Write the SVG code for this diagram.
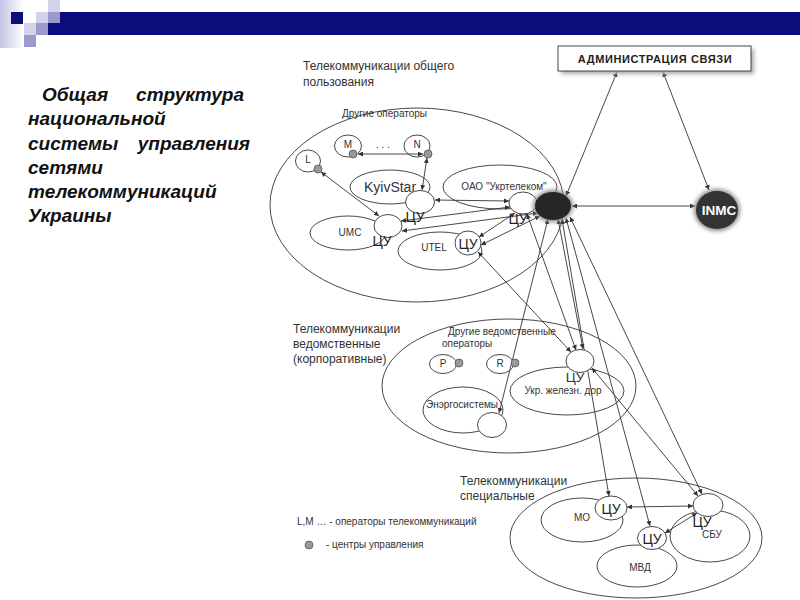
<svg xmlns="http://www.w3.org/2000/svg" width="800" height="600" viewBox="0 0 800 600">
<defs>
<linearGradient id="lg" x1="0" y1="0" x2="1" y2="0">
<stop offset="0" stop-color="#c4c4e4"/><stop offset="1" stop-color="#ffffff"/>
</linearGradient>
<filter id="glow" x="-50%" y="-50%" width="200%" height="200%">
<feGaussianBlur stdDeviation="2"/>
</filter>
<marker id="ar" viewBox="0 0 6 6" refX="6" refY="3" markerWidth="5" markerHeight="5" markerUnits="userSpaceOnUse" orient="auto-start-reverse">
<path d="M0,0 L6,3 L0,6 z" fill="#333"/>
</marker>
<style>
.t{font-family:"Liberation Sans",Arial,sans-serif;fill:#333}
.lb{font-size:12px}
.sm{font-size:10px}
.cu{font-size:14px;fill:#222}
.el{fill:none;stroke:#333;stroke-width:0.9}
.nd{fill:#fff;stroke:#333;stroke-width:0.9}
.dot{fill:#999;stroke:#555;stroke-width:0.8}
.cn line{stroke:#333;stroke-width:0.9;marker-start:url(#ar);marker-end:url(#ar)}
.title{font-family:"Liberation Sans",Arial,sans-serif;font-size:19px;font-weight:bold;font-style:italic;fill:#111}
</style>
</defs>
<rect width="800" height="600" fill="#fff"/>
<!-- header -->
<g id="header">
<rect x="0" y="0" width="24" height="48" fill="url(#lg)"/>
<rect x="48" y="12" width="752" height="23" fill="#0c0c7c"/>
<rect x="11" y="12" width="12" height="12" fill="#0c0c7c"/>
<rect x="36" y="12" width="12" height="11" fill="#d2d2ec"/>
<rect x="36" y="23" width="12" height="12" fill="#9a9acc"/>
<rect x="48" y="0" width="12" height="12" fill="#d2d2ec"/>
<rect x="48" y="12" width="12" height="11" fill="#9a9acc"/>
<rect x="24" y="23" width="12" height="12" fill="#d2d2ec"/>
<rect x="24" y="35" width="12" height="12" fill="#9a9acc"/>
</g>
<!-- title -->
<g id="title" class="title">
<text x="42" y="101">Общая</text>
<text x="244" y="101" text-anchor="end">структура</text>
<text x="28" y="125">национальной</text>
<text x="28" y="150">системы</text>
<text x="250" y="150" text-anchor="end">управления</text>
<text x="28" y="174">сетями</text>
<text x="28" y="198">телекоммуникаций</text>
<text x="28" y="222">Украины</text>
</g>
<!-- section labels -->
<g id="sec-public">
<ellipse class="el" cx="417" cy="205" rx="147" ry="97"/>
<text class="t lb" x="303" y="70">Телекоммуникации общего</text>
<text class="t lb" x="303" y="86">пользования</text>
<text class="t sm" x="342" y="117">Другие операторы</text>
</g>
<g id="sec-dept">
<ellipse class="el" cx="509" cy="386" rx="127" ry="67"/>
<text class="t lb" x="293" y="333">Телекоммуникации</text>
<text class="t lb" x="293" y="348">ведомственные</text>
<text class="t lb" x="293" y="363">(корпоративные)</text>
<text class="t sm" x="448" y="335">Другие ведомственные</text>
<text class="t sm" x="442" y="347">операторы</text>
</g>
<g id="sec-special">
<ellipse class="el" cx="636" cy="538" rx="126" ry="60"/>
<text class="t lb" x="460" y="485">Телекоммуникации</text>
<text class="t lb" x="460" y="500">специальные</text>
</g>
<!-- operator ellipses -->
<g id="kyivstar"><ellipse class="el" cx="390" cy="187" rx="40" ry="17"/><text class="t" x="390" y="192" font-size="14" text-anchor="middle">KyivStar</text></g>
<g id="umc"><ellipse class="el" cx="348" cy="233" rx="38" ry="17"/><text class="t sm" x="350" y="236" text-anchor="middle">UMC</text></g>
<g id="ukrtelecom"><ellipse class="el" cx="500" cy="187" rx="57" ry="22"/><text class="t sm" x="504" y="190" text-anchor="middle">ОАО "Укртелеком"</text></g>
<g id="utel"><ellipse class="el" cx="440" cy="251" rx="42" ry="19"/><text class="t sm" x="434" y="251" text-anchor="middle">UTEL</text></g>
<g id="energo"><ellipse class="el" cx="463" cy="410" rx="40" ry="23"/><text class="t sm" x="462" y="408" text-anchor="middle">Энэргосистемы</text></g>
<g id="rail"><ellipse class="el" cx="567" cy="391" rx="57" ry="24"/><text class="t sm" x="563" y="394" text-anchor="middle">Укр. железн. дор</text></g>
<g id="mo"><ellipse class="el" cx="582" cy="520" rx="41" ry="22"/><text class="t sm" x="582" y="521" text-anchor="middle">МО</text></g>
<g id="sbu"><ellipse class="el" cx="710" cy="536" rx="40" ry="26"/><text class="t sm" x="712" y="538" text-anchor="middle">СБУ</text></g>
<g id="mvd"><ellipse class="el" cx="637" cy="566" rx="40" ry="21"/><text class="t sm" x="640" y="571" text-anchor="middle">МВД</text></g>
<!-- small operators -->
<g id="op-m"><ellipse class="el" cx="348" cy="146" rx="13.5" ry="11"/><text class="t sm" x="348" y="148" text-anchor="middle">M</text></g>
<g id="op-dots"><text class="t sm" x="383" y="148" text-anchor="middle">. . .</text></g>
<g id="op-n"><ellipse class="el" cx="417" cy="146" rx="13" ry="11"/><text class="t sm" x="417" y="148" text-anchor="middle">N</text></g>
<g id="op-l"><ellipse class="el" cx="308" cy="161" rx="12.5" ry="11"/><text class="t sm" x="308" y="163" text-anchor="middle">L</text></g>
<g id="op-p"><ellipse class="el" cx="443" cy="364" rx="13.5" ry="9.5"/><text class="t sm" x="443" y="367" text-anchor="middle">P</text></g>
<g id="op-r"><ellipse class="el" cx="500" cy="364" rx="13.5" ry="9.5"/><text class="t sm" x="500" y="367" text-anchor="middle">R</text></g>
<!-- connectors -->
<g id="connectors" class="cn">
<line x1="566" y1="196" x2="617" y2="72"/>
<line x1="663" y1="72" x2="709" y2="190"/>
<line x1="572" y1="206" x2="695" y2="206"/>
<line x1="358" y1="154" x2="423" y2="154"/>
<line x1="427" y1="158" x2="422" y2="190"/>
<line x1="321" y1="172" x2="379" y2="216"/>
<line x1="435" y1="200" x2="509" y2="201"/>
<line x1="401" y1="221" x2="510" y2="207"/>
<line x1="402" y1="231" x2="538" y2="213"/>
<line x1="479" y1="237" x2="515" y2="213"/>
<line x1="481" y1="245" x2="540" y2="216"/>
<line x1="478" y1="252" x2="571" y2="352"/>
<line x1="527" y1="214" x2="576" y2="350"/>
<line x1="558" y1="219" x2="583" y2="349"/>
<line x1="548" y1="219" x2="499" y2="413"/>
<line x1="562" y1="219" x2="609" y2="496"/>
<line x1="566" y1="218" x2="650" y2="526"/>
<line x1="570" y1="217" x2="702" y2="494"/>
<line x1="592" y1="368" x2="698" y2="496"/>
<line x1="627" y1="507" x2="693" y2="506"/>
<line x1="697" y1="513" x2="665" y2="533"/>
</g>
<!-- control centers -->
<g id="dot-m"><circle class="dot" cx="353" cy="154" r="4"/></g>
<g id="dot-n"><circle class="dot" cx="428" cy="154" r="4"/></g>
<g id="dot-l"><circle class="dot" cx="318" cy="169" r="4"/></g>
<g id="dot-p"><circle class="dot" cx="459" cy="363" r="4"/></g>
<g id="dot-r"><circle class="dot" cx="515" cy="363" r="4"/></g>
<g id="cu-kyivstar"><ellipse class="nd" cx="420" cy="202" rx="14.5" ry="11.5"/><text class="t cu" x="415" y="222" text-anchor="middle">ЦУ</text></g>
<g id="cu-umc"><ellipse class="nd" cx="388" cy="226" rx="14" ry="11.5"/><text class="t cu" x="382" y="246" text-anchor="middle">ЦУ</text></g>
<g id="cu-ukrtelecom"><ellipse class="nd" cx="523" cy="203" rx="14" ry="11"/><text class="t cu" x="518" y="224" text-anchor="middle">ЦУ</text></g>
<g id="cu-utel"><ellipse class="nd" cx="468" cy="243" rx="13" ry="12"/><text class="t cu" x="468" y="249" text-anchor="middle">ЦУ</text></g>
<g id="cu-energo"><ellipse class="nd" cx="492" cy="425" rx="14.5" ry="12.5"/></g>
<g id="cu-rail"><ellipse class="nd" cx="580" cy="361" rx="14" ry="11.5"/><text class="t" x="575" y="382" font-size="13.5" fill="#222" text-anchor="middle">ЦУ</text></g>
<g id="cu-mo"><ellipse class="nd" cx="611" cy="508" rx="16" ry="12"/><text class="t cu" x="611" y="514" text-anchor="middle">ЦУ</text></g>
<g id="cu-sbu"><ellipse class="nd" cx="708" cy="505" rx="15" ry="11.5"/><text class="t cu" x="702" y="527" text-anchor="middle">ЦУ</text></g>
<g id="cu-mvd"><ellipse class="nd" cx="652" cy="538" rx="14.5" ry="11.5"/><text class="t cu" x="652" y="544" text-anchor="middle">ЦУ</text></g>
<!-- main nodes -->
<g id="national-center">
<ellipse cx="553" cy="206" rx="20" ry="16" fill="#888" filter="url(#glow)"/>
<ellipse cx="553" cy="206" rx="18" ry="14" fill="#262626"/>
</g>
<g id="inmc">
<ellipse cx="717" cy="210" rx="23" ry="21" fill="#888" filter="url(#glow)"/>
<ellipse cx="717" cy="210" rx="21" ry="19" fill="#333"/>
<text x="719" y="215" font-family="'Liberation Sans',Arial,sans-serif" font-size="13.5" font-weight="bold" fill="#fff" text-anchor="middle">INMC</text>
</g>
<g id="admin">
<rect x="561" y="49" width="193" height="25" fill="#aaa" filter="url(#glow)"/>
<rect x="558" y="46" width="193" height="25" fill="#fff" stroke="#333" stroke-width="0.9"/>
<text x="655" y="63" font-family="'Liberation Sans',Arial,sans-serif" font-size="11" letter-spacing="0.6" font-weight="bold" fill="#222" text-anchor="middle">АДМИНИСТРАЦИЯ  СВЯЗИ</text>
</g>
<!-- legend -->
<g id="legend">
<text class="t sm" x="297" y="525">L,M … - операторы телекоммуникаций</text>
<circle class="dot" cx="309" cy="545" r="4"/>
<text class="t sm" x="326" y="548">-  центры управления</text>
</g>
</svg>
